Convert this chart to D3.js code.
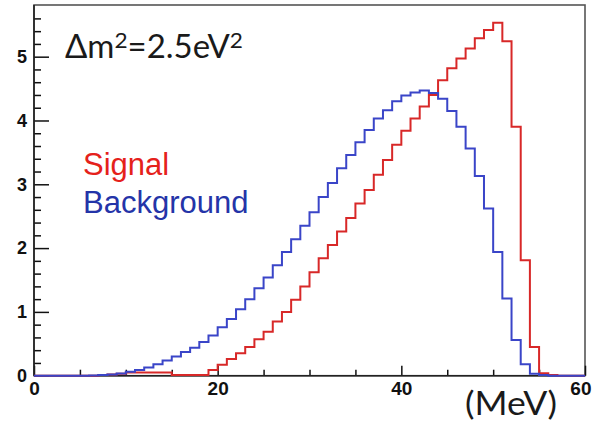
<!DOCTYPE html>
<html>
<head>
<meta charset="utf-8">
<script src="https://cdn.jsdelivr.net/npm/d3@7"></script>
<style>
  html, body { margin: 0; padding: 0; background: #fff; }
  svg { display: block; }
</style>
</head>
<body>
<svg id="chart" width="592" height="427"></svg>
<script>
// Energy spectra, 1 MeV bins from 0 to 60 MeV
const binEdgesMeV = d3.range(0, 61);
const signalCounts = [
  0, 0, 0, 0, 0, 0, 0, 0.01, 0.02, 0.03,
  0.05, 0.05, 0.05, 0.05, 0.05, 0.01, 0.01, 0.01, 0.01, 0.09,
  0.17, 0.26, 0.35, 0.45, 0.57, 0.69, 0.85, 1.00, 1.19, 1.40,
  1.62, 1.84, 2.05, 2.26, 2.47, 2.70, 2.91, 3.15, 3.38, 3.62,
  3.84, 4.03, 4.22, 4.40, 4.63, 4.82, 4.97, 5.13, 5.29, 5.42,
  5.53, 5.24, 3.90, 1.81, 0.45, 0.04, 0.01, 0, 0, 0
];
const backgroundCounts = [
  0, 0, 0, 0, 0, 0, 0.005, 0.01, 0.02, 0.035,
  0.06, 0.09, 0.13, 0.18, 0.24, 0.30, 0.37, 0.44, 0.53, 0.63,
  0.76, 0.89, 1.04, 1.20, 1.37, 1.54, 1.73, 1.94, 2.14, 2.35,
  2.56, 2.80, 3.02, 3.25, 3.46, 3.66, 3.85, 4.03, 4.16, 4.30,
  4.39, 4.44, 4.47, 4.43, 4.34, 4.15, 3.90, 3.56, 3.13, 2.62,
  1.94, 1.21, 0.56, 0.18, 0.03, 0.01, 0, 0, 0, 0
];
const xMajorTicks = [0, 20, 40, 60];
const xMinorTicks = [5, 10, 15, 25, 30, 35, 45, 50, 55];
const yMajorTicks = [0, 1, 2, 3, 4, 5];
const yMinorTicks = d3.range(0, 29).map(i => +(i * 0.2).toFixed(1)).filter(v => v % 1 !== 0);

const svg = d3.select("#chart");
const plot = { left: 34, right: 585, top: 5, bottom: 375.7 };

const x = d3.scaleLinear().domain([0, 60]).range([plot.left, plot.right]);
const y = d3.scaleLinear().domain([0, 5.81]).range([plot.bottom, plot.top]);

// frame
svg.append("rect")
  .attr("x", plot.left).attr("y", plot.top)
  .attr("width", plot.right - plot.left).attr("height", plot.bottom - plot.top)
  .attr("fill", "none").attr("stroke", "#555").attr("stroke-width", 1.6);

// y axis: major and minor ticks drawn inward
const yAxisMajor = d3.axisLeft(y).tickValues(yMajorTicks).tickSize(-15).tickPadding(7)
  .tickFormat(d3.format("d"));
const yAxisMinor = d3.axisLeft(y).tickValues(yMinorTicks).tickSize(-7).tickFormat("");

const gy = svg.append("g").attr("transform", `translate(${plot.left},0)`).call(yAxisMajor);
const gyMinor = svg.append("g").attr("transform", `translate(${plot.left},0)`).call(yAxisMinor);

// x axis
const xAxisMajor = d3.axisBottom(x).tickValues(xMajorTicks).tickSize(-10).tickPadding(6)
  .tickFormat(d3.format("d"));
const xAxisMinor = d3.axisBottom(x).tickValues(xMinorTicks).tickSize(-6).tickFormat("");

const gx = svg.append("g").attr("transform", `translate(0,${plot.bottom})`).call(xAxisMajor);
const gxMinor = svg.append("g").attr("transform", `translate(0,${plot.bottom})`).call(xAxisMinor);

[gy, gyMinor, gx, gxMinor].forEach(g => {
  g.select(".domain").remove();
  g.selectAll(".tick line").attr("stroke", "#111").attr("stroke-width", 1.5);
});
gy.selectAll(".tick text")
  .attr("font-family", "'Liberation Sans Narrow', 'Liberation Sans', Arial, sans-serif")
  .attr("font-weight", "bold").attr("font-size", 18).attr("fill", "#111");
gx.selectAll(".tick text")
  .attr("font-family", "'Liberation Sans', Arial, sans-serif")
  .attr("font-weight", "bold").attr("font-size", 19).attr("fill", "#111");
// keep the last label inside the page edge
gx.selectAll(".tick text").filter(d => d === 60)
  .attr("text-anchor", "end").attr("x", 591 - x(60));

// axis lines
svg.append("line")
  .attr("x1", plot.left).attr("x2", plot.left)
  .attr("y1", plot.top).attr("y2", plot.bottom)
  .attr("stroke", "#222").attr("stroke-width", 1.6);
svg.append("line")
  .attr("x1", plot.left).attr("x2", plot.right)
  .attr("y1", plot.bottom).attr("y2", plot.bottom)
  .attr("stroke", "#222").attr("stroke-width", 1.6);

// step outlines for each histogram
const stepLine = d3.line()
  .x(d => x(d[0]))
  .y(d => y(d[1]))
  .curve(d3.curveStepAfter);

function histPoints(counts) {
  const pts = counts.map((c, i) => [binEdgesMeV[i], c]);
  pts.push([binEdgesMeV[counts.length], counts[counts.length - 1]]);
  return pts;
}

svg.append("path")
  .datum(histPoints(signalCounts))
  .attr("d", stepLine)
  .attr("fill", "none").attr("stroke", "#d82828").attr("stroke-width", 2);

svg.append("path")
  .datum(histPoints(backgroundCounts))
  .attr("d", stepLine)
  .attr("fill", "none").attr("stroke", "#3a45c8").attr("stroke-width", 2);

// annotations
const title = svg.append("text")
  .attr("x", 65).attr("y", 58)
  .attr("font-family", "Lato, 'Open Sans', sans-serif")
  .attr("font-size", 32).attr("fill", "#1a1a1a");
title.append("tspan").text("Δm");
title.append("tspan").attr("font-size", 22).attr("dy", -10).text("2");
title.append("tspan").attr("dy", 10).text("=2.5eV");
title.append("tspan").attr("font-size", 22).attr("dy", -10).text("2");
title.attr("textLength", 178).attr("lengthAdjust", "spacingAndGlyphs");

svg.append("text")
  .attr("x", 83).attr("y", 175)
  .attr("font-family", "'Liberation Sans', Arial, sans-serif")
  .attr("font-size", 31).attr("fill", "#e5211b")
  .text("Signal");

svg.append("text")
  .attr("x", 83).attr("y", 213)
  .attr("font-family", "'Liberation Sans', Arial, sans-serif")
  .attr("font-size", 31).attr("fill", "#2434a8")
  .text("Background");

svg.append("text")
  .attr("x", 465).attr("y", 415)
  .attr("font-family", "Lato, 'Open Sans', sans-serif")
  .attr("font-size", 32).attr("fill", "#1a1a1a")
  .attr("textLength", 92).attr("lengthAdjust", "spacingAndGlyphs")
  .text("(MeV)");
</script>
</body>
</html>
